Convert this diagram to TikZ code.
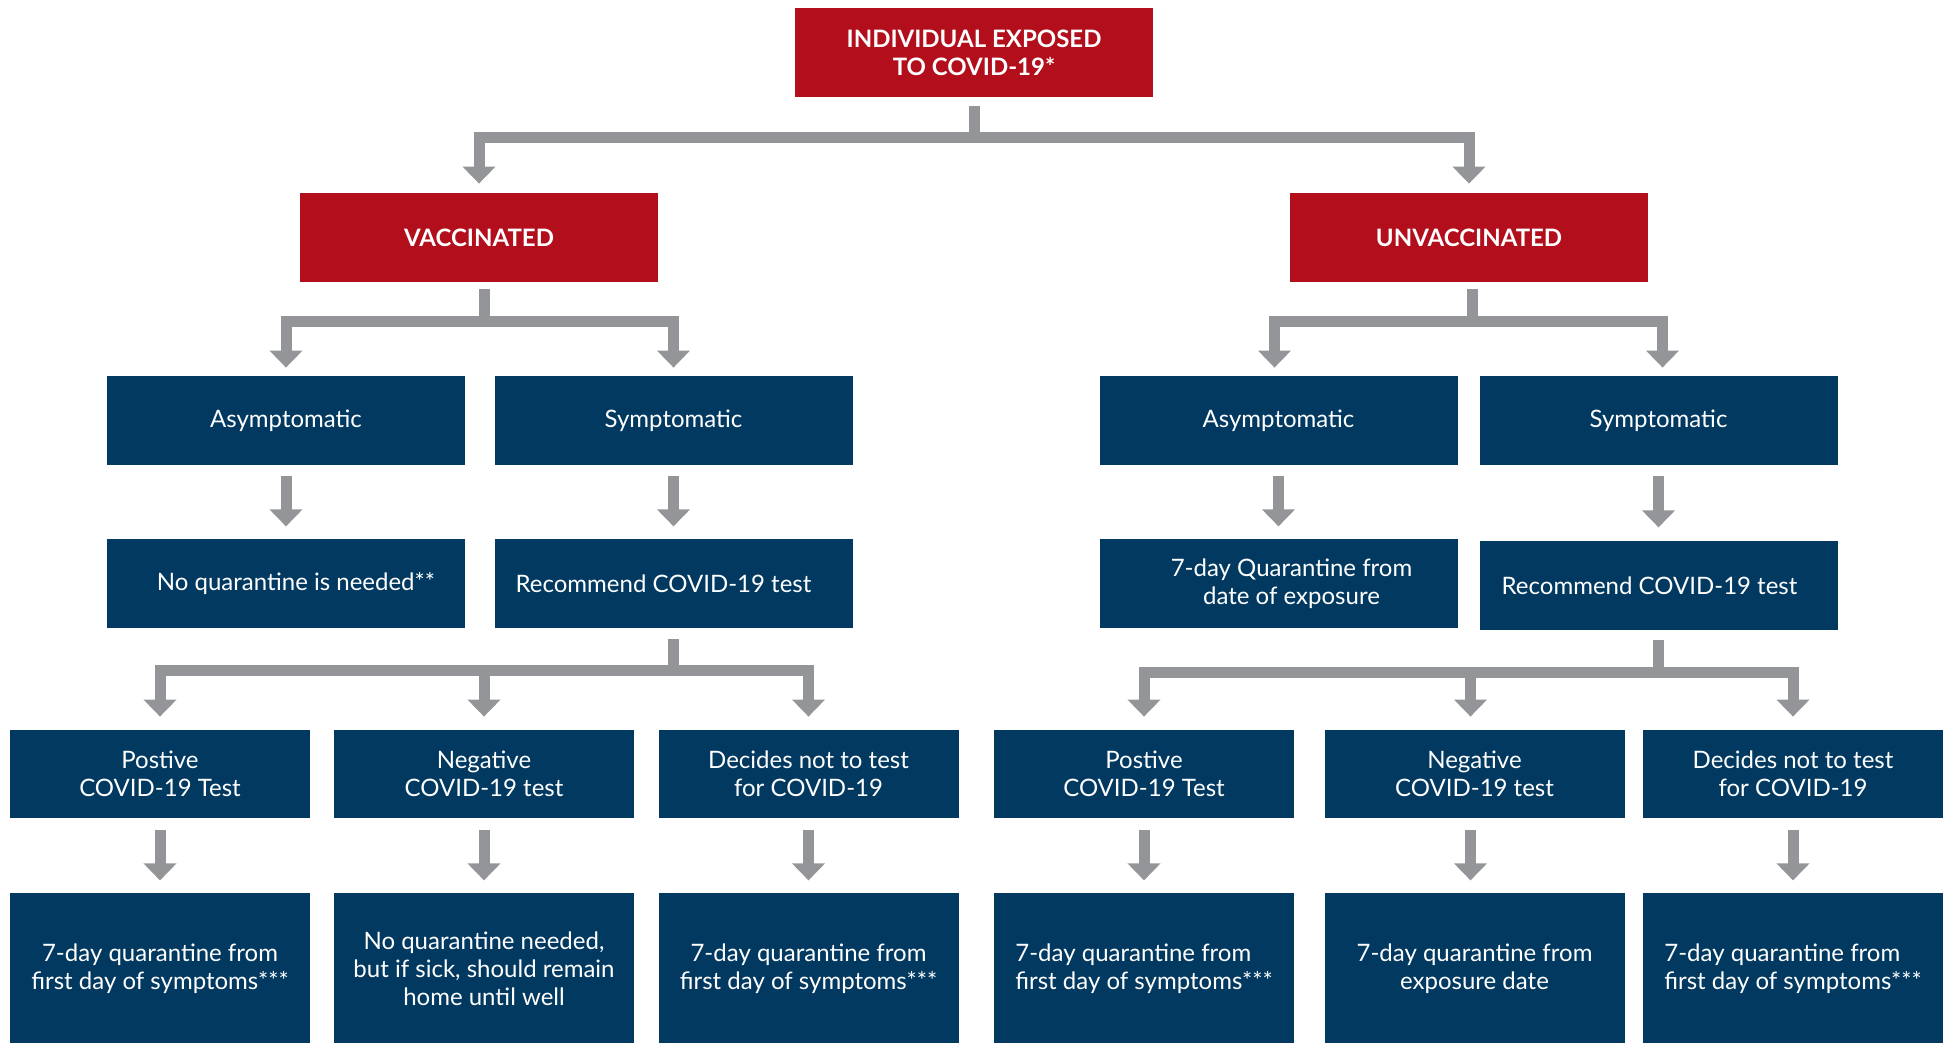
\documentclass[tikz,border=0pt]{standalone}
\usepackage{fontspec}
\setmainfont{Lato}
\usepackage{xcolor}
\definecolor{covidred}{RGB}{178, 14, 28}
\definecolor{covidnavy}{RGB}{2, 57, 96}
\definecolor{arrowgray}{RGB}{147, 149, 152}
\usetikzlibrary{positioning, arrows.meta}

\begin{document}
\begin{tikzpicture}[
        x=0.5pt, y=-0.5pt,
        node distance=36.5pt,
        every node/.style={font=\fontsize{12}{14}\selectfont, text=white, align=center, inner sep=0pt},
        redbox/.style={rectangle, fill=covidred, minimum width=179pt, minimum height=44.5pt, font=\fontsize{12}{14}\selectfont\bfseries},
        navybox/.style={rectangle, fill=covidnavy, minimum width=179pt, minimum height=44.5pt},
        testbox/.style={rectangle, fill=covidnavy, minimum width=150pt, minimum height=44pt},
        resultbox/.style={testbox, minimum height=75.5pt},
        arrow/.style={draw=arrowgray, line width=5.5pt, line join=miter, -{Triangle[width=16pt, length=8.5pt]}}
    ]
        \useasboundingbox (0,0) rectangle (1949,1043);

        \node[redbox] (exposed) at (974,52.5) {INDIVIDUAL EXPOSED\\TO COVID-19*};
        \node[redbox] (vacc) at (479,237.5) {VACCINATED};
        \node[redbox] (unvacc) at (1469,237.5) {UNVACCINATED};

        % vaccinated side
        \node[navybox] (asymV) at (286,420.5) {Asymptomatic};
        \node[navybox] (sympV) at (673.5,420.5) {Symptomatic};
        \node[navybox, below=of asymV] (noquarV) {\hspace*{10pt}No quarantine is needed**};
        \node[navybox, below=of sympV] (testV) {Recommend COVID-19 test\hspace*{10pt}};

        \node[testbox] (posV) at (160,774) {Postive\\COVID-19 Test};
        \node[testbox] (negV) at (484,774) {Negative\\COVID-19 test};
        \node[testbox] (skipV) at (808.5,774) {Decides not to test\\for COVID-19};
        \node[resultbox, below=37pt of posV] (resPosV) {7-day quarantine from\\first day of symptoms***};
        \node[resultbox, below=37pt of negV] (resNegV) {No quarantine needed,\\but if sick, should remain\\home until well};
        \node[resultbox, below=37pt of skipV] (resSkipV) {7-day quarantine from\\first day of symptoms***};

        % unvaccinated side
        \node[navybox] (asymU) at (1278.5,420.5) {Asymptomatic};
        \node[navybox] (sympU) at (1658.5,420.5) {Symptomatic};
        \node[navybox, below=of asymU] (quarU) {\hspace*{13pt}7-day Quarantine from\\\hspace*{13pt}date of exposure};
        \node[navybox, below=37.5pt of sympU] (testU) {Recommend COVID-19 test\hspace*{9pt}};

        \node[testbox] (posU) at (1144,774) {Postive\\COVID-19 Test};
        \node[testbox] (negU) at (1474.5,774) {Negative\\COVID-19 test};
        \node[testbox] (skipU) at (1793,774) {Decides not to test\\for COVID-19};
        \node[resultbox, below=37pt of posU, align=left] (resPosU) {7-day quarantine from\\first day of symptoms***};
        \node[resultbox, below=37pt of negU] (resNegU) {7-day quarantine from\\exposure date};
        \node[resultbox, below=37pt of skipU, align=left] (resSkipU) {7-day quarantine from\\first day of symptoms***};

        % splits
        \draw[arrow] ([yshift=-4.5pt]exposed.south) -- ++(0,-15.5pt) -| ([yshift=4.5pt]vacc.north);
        \draw[arrow] ([yshift=-4.5pt]exposed.south) -- ++(0,-15.5pt) -| ([yshift=4.5pt]unvacc.north);

        \draw[arrow] ([xshift=2.5pt,yshift=-3.5pt]vacc.south) -- ++(0,-16pt) -| ([yshift=4pt]asymV.north);
        \draw[arrow] ([xshift=2.5pt,yshift=-3.5pt]vacc.south) -- ++(0,-16pt) -| ([yshift=4pt]sympV.north);
        \draw[arrow] ([xshift=1.5pt,yshift=-3.5pt]unvacc.south) -- ++(0,-16pt) -| ([xshift=-2pt,yshift=4pt]asymU.north);
        \draw[arrow] ([xshift=1.5pt,yshift=-3.5pt]unvacc.south) -- ++(0,-16pt) -| ([xshift=2pt,yshift=4pt]sympU.north);

        \draw[arrow] ([yshift=-5.5pt]testV.south) -- ++(0,-15.5pt) -| ([yshift=6.5pt]posV.north);
        \draw[arrow] ([yshift=-5.5pt]testV.south) -- ++(0,-15.5pt) -| ([yshift=6.5pt]negV.north);
        \draw[arrow] ([yshift=-5.5pt]testV.south) -- ++(0,-15.5pt) -| ([yshift=6.5pt]skipV.north);
        \draw[arrow] ([yshift=-5pt]testU.south) -- ++(0,-16pt) -| ([yshift=6.5pt]posU.north);
        \draw[arrow] ([yshift=-5pt]testU.south) -- ++(0,-16pt) -| ([xshift=-2pt,yshift=6.5pt]negU.north);
        \draw[arrow] ([yshift=-5pt]testU.south) -- ++(0,-16pt) -| ([yshift=6.5pt]skipU.north);

        % straight arrows
        \draw[arrow] ([yshift=-5.5pt]asymV.south) -- ([yshift=6pt]noquarV.north);
        \draw[arrow] ([yshift=-5.5pt]sympV.south) -- ([yshift=6pt]testV.north);
        \draw[arrow] ([yshift=-5.5pt]asymU.south) -- ([yshift=6pt]quarU.north);
        \draw[arrow] ([yshift=-5.5pt]sympU.south) -- ([yshift=6.5pt]testU.north);

        \draw[arrow] ([yshift=-6pt]posV.south) -- ([yshift=6pt]resPosV.north);
        \draw[arrow] ([yshift=-6pt]negV.south) -- ([yshift=6pt]resNegV.north);
        \draw[arrow] ([yshift=-6pt]skipV.south) -- ([yshift=6pt]resSkipV.north);
        \draw[arrow] ([yshift=-6pt]posU.south) -- ([yshift=6pt]resPosU.north);
        \draw[arrow] ([xshift=-2pt,yshift=-6pt]negU.south) -- ([xshift=-2pt,yshift=6pt]resNegU.north);
        \draw[arrow] ([yshift=-6pt]skipU.south) -- ([yshift=6pt]resSkipU.north);

    \end{tikzpicture}
\end{document}
